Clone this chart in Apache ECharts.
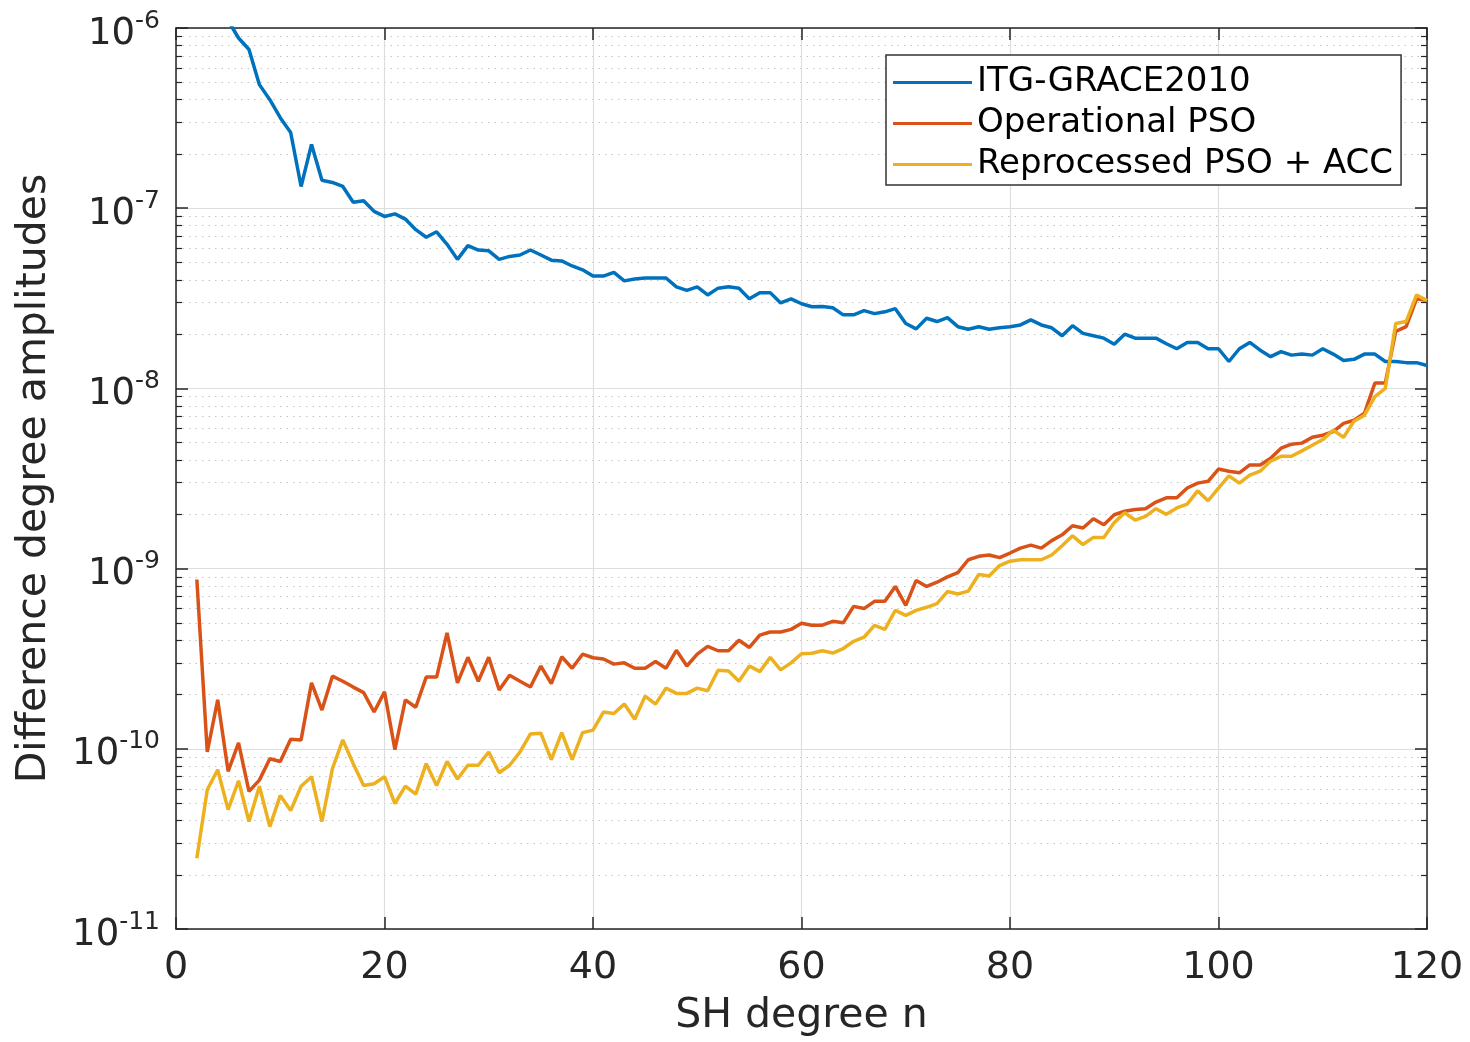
<!DOCTYPE html>
<html>
<head>
<meta charset="utf-8">
<title>Difference degree amplitudes</title>
<script src="https://cdn.jsdelivr.net/npm/echarts@6/dist/echarts.min.js"></script>
<style>
  html, body { margin: 0; padding: 0; background: #fff; }
  #chart { width: 1470px; height: 1042px; }
</style>
</head>
<body>
<div id="chart"></div>
<script>
// SH degree n = 2 .. 120
var degrees = [];
for (var n = 2; n <= 120; n++) degrees.push(n);

var seriesNames = ['ITG-GRACE2010', 'Operational PSO', 'Reprocessed PSO + ACC'];

// ITG-GRACE2010 (n = 2..4 are above the plot range)
var itgGrace = [
  null, null, null, 1.1e-6, 8.8e-7, 7.6e-7, 4.85e-7, 4.0e-7, 3.18e-7, 2.63e-7,
  1.32e-7, 2.26e-7, 1.43e-7, 1.39e-7, 1.32e-7, 1.08e-7, 1.1e-7, 9.6e-8, 9.0e-8, 9.3e-8,
  8.7e-8, 7.6e-8, 6.9e-8, 7.4e-8, 6.3e-8, 5.2e-8, 6.2e-8, 5.86e-8, 5.8e-8, 5.2e-8,
  5.4e-8, 5.5e-8, 5.86e-8, 5.5e-8, 5.15e-8, 5.1e-8, 4.78e-8, 4.55e-8, 4.2e-8, 4.2e-8,
  4.4e-8, 3.95e-8, 4.05e-8, 4.1e-8, 4.1e-8, 4.1e-8, 3.66e-8, 3.5e-8, 3.66e-8, 3.3e-8,
  3.6e-8, 3.66e-8, 3.6e-8, 3.14e-8, 3.4e-8, 3.4e-8, 2.98e-8, 3.14e-8, 2.95e-8, 2.84e-8,
  2.85e-8, 2.8e-8, 2.56e-8, 2.56e-8, 2.7e-8, 2.6e-8, 2.66e-8, 2.77e-8, 2.29e-8, 2.14e-8,
  2.45e-8, 2.35e-8, 2.47e-8, 2.2e-8, 2.13e-8, 2.2e-8, 2.13e-8, 2.17e-8, 2.2e-8, 2.25e-8,
  2.4e-8, 2.25e-8, 2.17e-8, 1.96e-8, 2.23e-8, 2.02e-8, 1.96e-8, 1.9e-8, 1.76e-8, 2.0e-8,
  1.9e-8, 1.9e-8, 1.9e-8, 1.77e-8, 1.66e-8, 1.8e-8, 1.8e-8, 1.66e-8, 1.66e-8, 1.41e-8,
  1.66e-8, 1.8e-8, 1.63e-8, 1.5e-8, 1.6e-8, 1.53e-8, 1.55e-8, 1.53e-8, 1.66e-8, 1.55e-8,
  1.43e-8, 1.45e-8, 1.55e-8, 1.55e-8, 1.41e-8, 1.41e-8, 1.39e-8, 1.39e-8, 1.34e-8
];

// Operational PSO
var operationalPso = [
  8.7e-10, 9.6e-11, 1.87e-10, 7.5e-11, 1.08e-10, 5.8e-11, 6.7e-11, 8.8e-11, 8.5e-11, 1.13e-10,
  1.12e-10, 2.32e-10, 1.64e-10, 2.53e-10, 2.37e-10, 2.2e-10, 2.05e-10, 1.6e-10, 2.07e-10, 9.9e-11,
  1.87e-10, 1.7e-10, 2.5e-10, 2.5e-10, 4.4e-10, 2.32e-10, 3.22e-10, 2.37e-10, 3.22e-10, 2.12e-10,
  2.56e-10, 2.37e-10, 2.2e-10, 2.88e-10, 2.3e-10, 3.24e-10, 2.8e-10, 3.35e-10, 3.2e-10, 3.15e-10,
  2.95e-10, 3.0e-10, 2.8e-10, 2.8e-10, 3.05e-10, 2.8e-10, 3.52e-10, 2.88e-10, 3.35e-10, 3.7e-10,
  3.5e-10, 3.5e-10, 4.0e-10, 3.65e-10, 4.27e-10, 4.45e-10, 4.45e-10, 4.6e-10, 4.97e-10, 4.85e-10,
  4.85e-10, 5.1e-10, 5.0e-10, 6.17e-10, 6.0e-10, 6.58e-10, 6.58e-10, 7.96e-10, 6.25e-10, 8.6e-10,
  7.96e-10, 8.4e-10, 9.0e-10, 9.5e-10, 1.12e-9, 1.17e-9, 1.19e-9, 1.15e-9, 1.22e-9, 1.3e-9,
  1.35e-9, 1.3e-9, 1.43e-9, 1.54e-9, 1.73e-9, 1.68e-9, 1.89e-9, 1.75e-9, 1.99e-9, 2.08e-9,
  2.13e-9, 2.15e-9, 2.34e-9, 2.47e-9, 2.47e-9, 2.8e-9, 2.98e-9, 3.05e-9, 3.57e-9, 3.47e-9,
  3.4e-9, 3.76e-9, 3.76e-9, 4.1e-9, 4.66e-9, 4.9e-9, 4.97e-9, 5.36e-9, 5.5e-9, 5.76e-9,
  6.4e-9, 6.66e-9, 7.28e-9, 1.07e-8, 1.07e-8, 2.07e-8, 2.2e-8, 3.14e-8, 3.07e-8
];

// Reprocessed PSO + ACC
var reprocessedPso = [
  2.47e-11, 5.93e-11, 7.65e-11, 4.6e-11, 6.65e-11, 3.95e-11, 6.2e-11, 3.7e-11, 5.5e-11, 4.54e-11,
  6.2e-11, 7.0e-11, 3.95e-11, 7.75e-11, 1.12e-10, 8.27e-11, 6.25e-11, 6.4e-11, 7.0e-11, 4.97e-11,
  6.2e-11, 5.6e-11, 8.27e-11, 6.25e-11, 8.5e-11, 6.8e-11, 8.1e-11, 8.1e-11, 9.6e-11, 7.36e-11,
  8.1e-11, 9.6e-11, 1.21e-10, 1.22e-10, 8.7e-11, 1.23e-10, 8.7e-11, 1.23e-10, 1.27e-10, 1.6e-10,
  1.57e-10, 1.77e-10, 1.46e-10, 1.96e-10, 1.77e-10, 2.17e-10, 2.03e-10, 2.03e-10, 2.17e-10, 2.1e-10,
  2.73e-10, 2.7e-10, 2.37e-10, 2.88e-10, 2.68e-10, 3.22e-10, 2.74e-10, 3.0e-10, 3.37e-10, 3.39e-10,
  3.5e-10, 3.4e-10, 3.6e-10, 3.95e-10, 4.16e-10, 4.84e-10, 4.6e-10, 5.86e-10, 5.5e-10, 5.86e-10,
  6.1e-10, 6.4e-10, 7.46e-10, 7.23e-10, 7.5e-10, 9.27e-10, 9.1e-10, 1.04e-9, 1.1e-9, 1.12e-9,
  1.12e-9, 1.12e-9, 1.19e-9, 1.34e-9, 1.52e-9, 1.36e-9, 1.49e-9, 1.49e-9, 1.8e-9, 2.04e-9,
  1.86e-9, 1.95e-9, 2.15e-9, 2.0e-9, 2.17e-9, 2.28e-9, 2.7e-9, 2.38e-9, 2.8e-9, 3.27e-9,
  2.98e-9, 3.3e-9, 3.47e-9, 3.95e-9, 4.2e-9, 4.2e-9, 4.5e-9, 4.84e-9, 5.2e-9, 5.86e-9,
  5.36e-9, 6.58e-9, 7.1e-9, 9.0e-9, 1.0e-8, 2.29e-8, 2.35e-8, 3.3e-8, 3.07e-8
];

var xTicks = [0, 20, 40, 60, 80, 100, 120];

function pairs(vals) {
  return degrees.map(function (d, i) { return [d, vals[i]]; });
}

var FONT = 'DejaVu Sans';
var AXIS_COLOR = '#262626';
var colors = ['#0072BD', '#D95319', '#EDB120'];

var chart = echarts.init(document.getElementById('chart'), null, { renderer: 'canvas' });

var boxLine = { show: true, onZero: false, lineStyle: { color: AXIS_COLOR, width: 1.5 } };
var majorTick = { show: true, inside: true, length: 12, lineStyle: { color: AXIS_COLOR, width: 1.5 } };
var minorTick = { show: true, splitNumber: 9, length: 6, lineStyle: { color: AXIS_COLOR, width: 1.2 } };

chart.setOption({
  backgroundColor: '#fff',
  animation: false,
  color: colors,
  grid: { left: 176, right: 43, top: 28, bottom: 109 },
  legend: {
    orient: 'vertical',
    left: 886,
    top: 55,
    padding: [7, 8, 0, 7],
    itemGap: 0,
    itemWidth: 79,
    itemHeight: 3,
    icon: 'rect',
    borderColor: '#333',
    borderWidth: 1.5,
    backgroundColor: '#fff',
    textStyle: { fontFamily: FONT, fontSize: 34, color: '#000', lineHeight: 41 },
    data: seriesNames
  },
  xAxis: [{
    type: 'value',
    min: 0, max: 120, interval: 20,
    position: 'bottom',
    name: 'SH degree n',
    nameLocation: 'middle',
    nameGap: 67,
    nameTextStyle: { fontFamily: FONT, fontSize: 41, color: AXIS_COLOR },
    axisLine: boxLine,
    axisTick: majorTick,
    axisLabel: {
      fontFamily: FONT, fontSize: 38, color: AXIS_COLOR, margin: 20,
      formatter: function (v) { return xTicks.indexOf(v) >= 0 ? String(v) : ''; }
    },
    splitLine: { show: true, lineStyle: { color: '#dedede', width: 1.2 } }
  }, {
    type: 'value',
    min: 0, max: 120, interval: 20,
    position: 'top',
    axisLine: boxLine,
    axisTick: majorTick,
    axisLabel: { show: false },
    splitLine: { show: false }
  }],
  yAxis: [{
    type: 'log',
    logBase: 10,
    min: 1e-11, max: 1e-6,
    position: 'left',
    name: 'Difference degree amplitudes',
    nameLocation: 'middle',
    nameGap: 121,
    nameTextStyle: { fontFamily: FONT, fontSize: 41, color: AXIS_COLOR },
    axisLine: boxLine,
    axisTick: majorTick,
    minorTick: minorTick,
    axisLabel: {
      margin: 16,
      color: AXIS_COLOR,
      formatter: function (v) {
        var e = Math.round(Math.log10(v));
        return '{b|10}{s|' + e + '}';
      },
      rich: {
        b: { fontFamily: FONT, fontSize: 37, color: AXIS_COLOR, padding: [12, 0, 0, 0] },
        s: { fontFamily: FONT, fontSize: 25, color: AXIS_COLOR, padding: [0, 0, 14, 0] }
      }
    },
    splitLine: { show: true, lineStyle: { color: '#dedede', width: 1.2 } },
    minorSplitLine: { show: true, lineStyle: { color: '#c4c4c4', width: 1.2, type: [1.5, 5] } }
  }, {
    type: 'log',
    logBase: 10,
    min: 1e-11, max: 1e-6,
    position: 'right',
    axisLine: boxLine,
    axisTick: majorTick,
    minorTick: minorTick,
    axisLabel: { show: false },
    splitLine: { show: false }
  }],
  series: [
    { name: seriesNames[0], data: pairs(itgGrace) },
    { name: seriesNames[1], data: pairs(operationalPso) },
    { name: seriesNames[2], data: pairs(reprocessedPso) }
  ].map(function (s, i) {
    return {
      name: s.name,
      type: 'line',
      xAxisIndex: 0,
      yAxisIndex: 0,
      data: s.data,
      showSymbol: false,
      symbol: 'none',
      clip: true,
      connectNulls: false,
      lineStyle: { color: colors[i], width: 3.5 },
      itemStyle: { color: colors[i] },
      z: 3 + i
    };
  })
});
</script>
</body>
</html>
